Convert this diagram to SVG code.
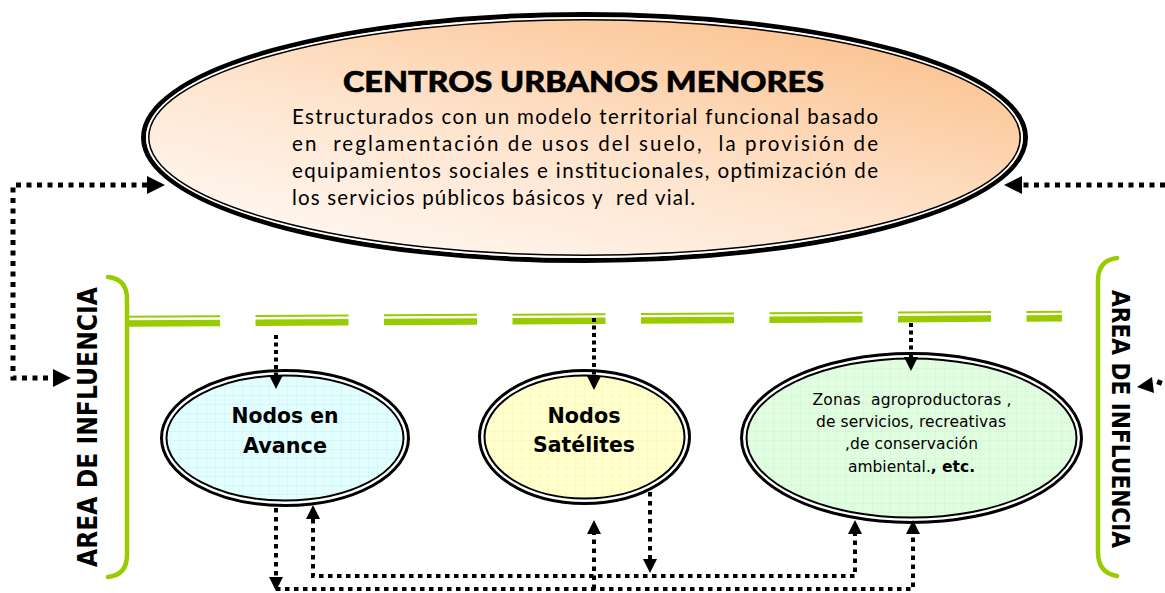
<svg xmlns="http://www.w3.org/2000/svg" width="1165" height="593" viewBox="0 0 1165 593">
<style>
.dot{fill:none;stroke:#000;stroke-width:5;stroke-dasharray:5 5.5}
.dot2{fill:none;stroke:#000;stroke-width:4;stroke-dasharray:4 3.5}
.dot3{fill:none;stroke:#000;stroke-width:4;stroke-dasharray:4.5 4.5}
.green{fill:none;stroke:#99cc00;stroke-linecap:round}
.gdash{fill:none;stroke:#99cc00;stroke-dasharray:93 35.5}
.side{font-family:"DejaVu Sans",Verdana,sans-serif;font-weight:bold;fill:#000}
.title{font-family:Lato,"Open Sans",sans-serif;font-weight:900;font-size:29px;fill:#000;stroke:#000;stroke-width:0.6}
.desc{font-family:Lato,"Open Sans",sans-serif;font-size:20.5px;fill:#000}
.nlab{font-family:"DejaVu Sans",Verdana,sans-serif;font-weight:bold;font-size:21px;fill:#000;text-anchor:middle}
.zlab{font-family:"DejaVu Sans",Verdana,sans-serif;font-size:15.5px;fill:#000;text-anchor:middle}
.outer{fill:#fff;stroke:#000;stroke-width:3}
.inner{stroke:#000;stroke-width:2}
</style>
<defs>
<linearGradient id="peach" x1="0.1" y1="1" x2="0.9" y2="0">
<stop offset="0" stop-color="#fffbf8"/>
<stop offset="0.45" stop-color="#fee4ce"/>
<stop offset="1" stop-color="#fbbd85"/>
</linearGradient>
<pattern id="gridC" width="9" height="9" patternUnits="userSpaceOnUse">
<rect width="9" height="9" fill="#e2feff"/>
<path d="M9,0 V9 M0,9 H9" stroke="#c4eef5" stroke-width="0.7"/>
</pattern>
<pattern id="gridY" width="9" height="9" patternUnits="userSpaceOnUse">
<rect width="9" height="9" fill="#ffffcc"/>
<path d="M9,0 V9 M0,9 H9" stroke="#f2eea8" stroke-width="0.7"/>
</pattern>
<pattern id="gridG" width="9" height="9" patternUnits="userSpaceOnUse">
<rect width="9" height="9" fill="#e0fde0"/>
<path d="M9,0 V9 M0,9 H9" stroke="#c6f0c6" stroke-width="0.7"/>
</pattern>
<marker id="ahL" markerUnits="userSpaceOnUse" markerWidth="18" markerHeight="18" refX="0" refY="8.5" orient="auto-start-reverse" viewBox="0 0 17 17">
<path d="M0,0 L17,8.5 L0,17 Z" fill="#000"/>
</marker>
<marker id="ahS" markerUnits="userSpaceOnUse" markerWidth="15" markerHeight="14" refX="0" refY="7" orient="auto-start-reverse" viewBox="0 0 14 14">
<path d="M0,0 L14,7 L0,14 Z" fill="#000"/>
</marker>
</defs>
<rect width="1165" height="593" fill="#fff"/>

<g id="brackets">
<path class="green" stroke-width="4.5" d="M108,277 Q127,279 127,299 L127,555 Q127,575 108,577"/>
<path class="green" stroke-width="4.5" d="M1117,258 Q1098,260 1098,281 L1098,552 Q1098,573 1117,576"/>
<path class="gdash" stroke-width="2" stroke="#a6d21e" d="M127,316.7 L1062,311.7"/>
<path class="gdash" stroke-width="6.5" d="M127,323.5 L1062,318.2"/>
</g>

<g id="side-labels">
<text class="side" font-size="26" textLength="280" lengthAdjust="spacingAndGlyphs" transform="translate(97,567) rotate(-90)">AREA DE INFLUENCIA</text>
<text class="side" font-size="24" textLength="258" lengthAdjust="spacingAndGlyphs" transform="translate(1112,290) rotate(90)">AREA DE INFLUENCIA</text>
</g>

<g id="centros">
<ellipse cx="584.5" cy="137.5" rx="441" ry="123" fill="url(#peach)" stroke="#000" stroke-width="5"/>
<ellipse cx="584.5" cy="137.5" rx="437.5" ry="119.5" fill="none" stroke="#fff" stroke-width="2"/>
<ellipse cx="584.5" cy="137.5" rx="435.7" ry="117.7" fill="none" stroke="#000" stroke-width="1.5"/>
<text class="title" x="343" y="92" textLength="481" lengthAdjust="spacingAndGlyphs">CENTROS URBANOS MENORES</text>
<text class="desc" xml:space="preserve" x="292" y="124" textLength="586" lengthAdjust="spacing">Estructurados con un modelo territorial funcional basado</text>
<text class="desc" xml:space="preserve" x="292" y="151" textLength="586" lengthAdjust="spacing">en  reglamentación de usos del suelo,  la provisión de</text>
<text class="desc" xml:space="preserve" x="292" y="178" textLength="586" lengthAdjust="spacing">equipamientos sociales e institucionales, optimización de</text>
<text class="desc" xml:space="preserve" x="292" y="205" textLength="403" lengthAdjust="spacing">los servicios públicos básicos y  red vial.</text>
</g>

<g id="nodo-avance">
<ellipse class="outer" cx="285" cy="438" rx="123.5" ry="67.5"/>
<ellipse class="inner" cx="285" cy="438" rx="118.5" ry="62.5" fill="url(#gridC)"/>
<text class="nlab" x="285" y="423" textLength="107" lengthAdjust="spacingAndGlyphs">Nodos en</text>
<text class="nlab" x="285" y="453" textLength="84" lengthAdjust="spacingAndGlyphs">Avance</text>
</g>

<g id="nodo-satelites">
<ellipse class="outer" cx="584.5" cy="437" rx="105" ry="66.5"/>
<ellipse class="inner" cx="584.5" cy="437" rx="100" ry="61.5" fill="url(#gridY)"/>
<text class="nlab" x="584" y="423" textLength="73" lengthAdjust="spacingAndGlyphs">Nodos</text>
<text class="nlab" x="584" y="452" textLength="102" lengthAdjust="spacingAndGlyphs">Satélites</text>
</g>

<g id="zonas">
<ellipse class="outer" cx="911.5" cy="438" rx="170" ry="84.5"/>
<ellipse class="inner" cx="911.5" cy="438" rx="165" ry="79.5" fill="url(#gridG)"/>
<text class="zlab" xml:space="preserve" x="912" y="405" textLength="199" lengthAdjust="spacing">Zonas  agroproductoras ,</text>
<text class="zlab" x="911" y="427" textLength="190" lengthAdjust="spacing">de servicios, recreativas</text>
<text class="zlab" x="911.5" y="449" textLength="133" lengthAdjust="spacing">,de conservación</text>
<text class="zlab" x="911.5" y="472">ambiental.<tspan font-weight="bold">, etc.</tspan></text>
</g>

<g id="connectors">
<path class="dot" d="M147,185 L13,185 L13,378 L53,378" marker-start="url(#ahL)" marker-end="url(#ahL)"/>
<path class="dot" d="M1165,185 L1022,185" marker-end="url(#ahL)"/>
<polygon points="1137,387 1152,377 1154,393" fill="#000"/>
<rect x="1157" y="380" width="5" height="5" fill="#000" transform="rotate(20 1159.5 382.5)"/>

<path class="dot2" d="M276,335 L276,375" marker-end="url(#ahS)"/>
<path class="dot2" d="M594,318 L594,376" marker-end="url(#ahS)"/>
<path class="dot2" d="M911,323 L911,357" marker-end="url(#ahS)"/>

<path class="dot3" d="M276,508 L276,577" marker-end="url(#ahS)"/>
<path class="dot3" d="M276,589 L913,589 L913,534" marker-end="url(#ahS)"/>
<path class="dot3" d="M594,589 L594,534" marker-end="url(#ahS)"/>
<path class="dot3" d="M313,519 L313,576 L855,576 L855,534" marker-start="url(#ahS)" marker-end="url(#ahS)"/>
<path class="dot3" d="M650,492 L650,559" marker-end="url(#ahS)"/>
</g>
</svg>
